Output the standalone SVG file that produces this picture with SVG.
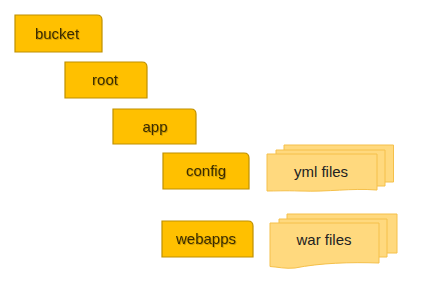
<svg xmlns="http://www.w3.org/2000/svg" width="424" height="293" viewBox="0 0 424 293">
<style>
.node{fill:#FFC000;stroke:#BF9000;stroke-width:1.2}
.sheet{fill:#FFD97E;stroke:#F5C04A;stroke-width:1}
.lbl{font-family:"Liberation Sans",Arial,sans-serif;font-size:15px;fill:#3A2C00;text-anchor:middle}
.flbl{font-family:"Liberation Sans",Arial,sans-serif;font-size:15px;fill:#222;text-anchor:middle}
</style>
<defs>
<filter id="ts" x="-10%" y="-10%" width="130%" height="140%">
<feDropShadow dx="0.8" dy="0.8" stdDeviation="0.4" flood-color="#000" flood-opacity="0.25"/>
</filter>
</defs>
<rect width="424" height="293" fill="#fff"/>
<g id="connectors"></g>
<g id="bucket">
<path class="node" d="M15,15 H97 Q102,15 102,20 V52 H15 Z"/>
<text class="lbl" x="57" y="39" filter="url(#ts)">bucket</text>
</g>
<g id="root">
<path class="node" d="M65,62 H142 Q147,62 147,67 V98 H65 Z"/>
<text class="lbl" x="105" y="85" filter="url(#ts)">root</text>
</g>
<g id="app">
<path class="node" d="M113,109 H191 Q196,109 196,114 V144 H113 Z"/>
<text class="lbl" x="155" y="132" filter="url(#ts)">app</text>
</g>
<g id="config">
<path class="node" d="M163,153 H244 Q249,153 249,158 V189 H163 Z"/>
<text class="lbl" x="206" y="176" filter="url(#ts)">config</text>
</g>
<g id="webapps">
<path class="node" d="M162,221 H248 Q253,221 253,226 V257 H162 Z"/>
<text class="lbl" x="206" y="244" filter="url(#ts)">webapps</text>
</g>
<g id="yml-files">
<path class="sheet" d="M284,145 H393.5 V182 H284 Z"/>
<path class="sheet" d="M276,150 H385 V186 H276 Z"/>
<path class="sheet" d="M267,154 H377 V190 C350,188 330,192 300,191 C285,190.5 275,191 267,191 Z"/>
<text class="flbl" x="321" y="177">yml files</text>
</g>
<g id="war-files">
<path class="sheet" d="M287,214 H397 V253 H287 Z"/>
<path class="sheet" d="M279,219 H387 V257 H279 Z"/>
<path class="sheet" d="M270,223 H379 V263 C350,262 320,263 295,268 C285,269 278,267 270,266.5 Z"/>
<text class="flbl" x="324" y="245">war files</text>
</g>
</svg>
